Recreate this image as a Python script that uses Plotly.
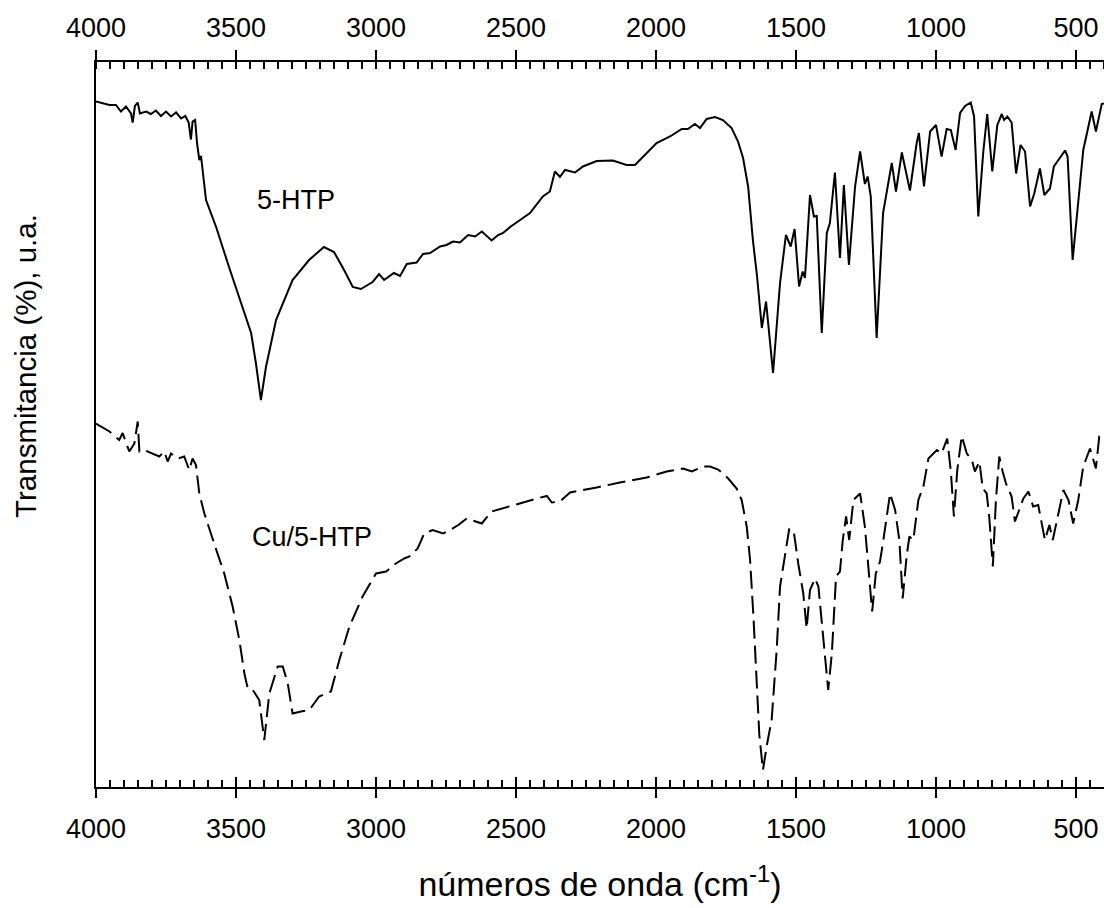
import plotly.graph_objects as go

# ---- data (wavenumber in cm-1, transmittance in arbitrary units) ----
htp_wn = [4000, 3952, 3929, 3911, 3893, 3875, 3869, 3861, 3851, 3843, 3821, 3804, 3786, 3768,
          3750, 3732, 3714, 3696, 3681, 3669, 3661, 3655, 3646, 3639, 3631, 3625,
          3607, 3571, 3525, 3476, 3446, 3429, 3411, 3393, 3357, 3298, 3239, 3186, 3150, 3114,
          3083, 3054, 3012, 2989, 2971, 2936, 2914, 2890, 2855, 2832, 2807, 2771, 2748, 2725,
          2700, 2671, 2646, 2622, 2587, 2564, 2546, 2521, 2450, 2404, 2379, 2361, 2343, 2325,
          2289, 2261, 2212, 2154, 2105, 2075, 2033, 1998, 1950, 1908, 1886, 1861, 1843, 1819,
          1789, 1761, 1730, 1707, 1689, 1671, 1654, 1639, 1622, 1607, 1582, 1557, 1536, 1519,
          1505, 1489, 1476, 1468, 1450, 1436, 1426, 1408, 1390, 1379, 1361, 1343, 1329, 1311,
          1289, 1271, 1254, 1244, 1233, 1212, 1189, 1158, 1143, 1122, 1093, 1069, 1061, 1043,
          1021, 1000, 980, 962, 947, 930, 914, 896, 876, 864, 849, 831, 817, 799, 781, 765,
          757, 745, 730, 714, 698, 682, 664, 649, 629, 613, 593, 579, 539, 530, 512, 492, 474,
          444, 429, 408, 400]
htp_t = [137.1, 136.4, 136.4, 135.1, 136.1, 134.7, 132.9, 136.2, 136.9, 134.7, 135.1, 134.6, 135.3, 134.2,
         135.1, 134.1, 134.9, 133.7, 134.2, 132.9, 129.5, 133.1, 133.4, 128.7, 125.4, 126.2,
         117.4, 112.0, 104.0, 96.0, 90.8, 84.8, 77.4, 84.0, 93.4, 101.4, 105.4, 108.0, 107.0, 103.4,
         100.0, 99.6, 101.0, 102.6, 101.4, 102.8, 102.2, 104.6, 104.9, 106.6, 106.8, 108.1, 108.4, 109.1,
         108.9, 110.4, 110.1, 111.1, 109.3, 110.4, 110.8, 112.0, 114.8, 118.1, 119.1, 123.1, 122.0, 123.4,
         122.9, 124.1, 125.2, 125.3, 124.4, 124.4, 126.8, 128.8, 130.1, 131.6, 131.6, 132.6, 131.8, 133.6,
         134.0, 133.4, 131.8, 129.1, 125.8, 120.1, 109.4, 102.1, 91.8, 97.1, 82.8, 100.8, 110.4, 108.1,
         111.6, 100.1, 103.1, 101.8, 118.4, 114.1, 114.2, 90.8, 110.8, 112.8, 122.9, 105.8, 120.4, 104.4,
         120.1, 127.1, 120.6, 122.1, 118.1, 89.8, 114.8, 124.8, 119.1, 126.9, 119.3, 128.8, 130.8, 120.1,
         131.1, 132.4, 126.1, 131.6, 131.4, 127.4, 134.8, 136.2, 136.9, 134.1, 114.1, 127.1, 134.6, 123.1, 132.4, 134.6,
         133.4, 134.1, 132.9, 122.7, 128.4, 127.1, 116.1, 118.7, 123.7, 118.4, 119.7, 124.1, 127.3, 126.1, 105.4, 117.4, 127.4,
         135.1, 131.1, 136.6, 136.7]

cu_wn = [4000, 3952, 3917, 3905, 3881, 3863, 3851, 3845, 3828, 3804, 3774, 3756, 3744, 3732,
         3708, 3685, 3667, 3655, 3643, 3631, 3613, 3578, 3542, 3512, 3488, 3470, 3458, 3440,
         3417, 3399, 3381, 3351, 3333, 3315, 3298, 3268, 3238, 3203, 3161, 3131, 3095, 3048,
         3000, 2964, 2929, 2899, 2881, 2851, 2828, 2798, 2760, 2736, 2706, 2676, 2622, 2587,
         2521, 2426, 2390, 2372, 2343, 2307, 2212, 2129, 2033, 1962, 1903, 1872, 1831, 1807,
         1778, 1742, 1712, 1694, 1676, 1664, 1652, 1640, 1631, 1618, 1604, 1587, 1569, 1557,
         1539, 1524, 1507, 1492, 1474, 1462, 1450, 1432, 1420, 1402, 1385, 1372, 1357, 1343,
         1333, 1321, 1310, 1295, 1271, 1254, 1242, 1228, 1215, 1200, 1188, 1164, 1146, 1131,
         1119, 1105, 1095, 1081, 1063, 1045, 1027, 997, 980, 960, 947, 936, 924, 908, 890, 872,
         861, 845, 833, 819, 810, 797, 786, 774, 762, 750, 730, 718, 703, 688, 670, 653, 635,
         622, 611, 595, 583, 569, 545, 527, 510, 492, 474, 450, 429, 417, 400]
cu_t = [72.7, 71.1, 69.4, 70.8, 67.1, 68.7, 73.1, 67.1, 67.4, 66.8, 66.1, 67.1, 65.1, 66.7,
        65.7, 66.1, 63.4, 65.7, 64.4, 58.7, 54.7, 48.7, 42.7, 36.1, 29.4, 22.7, 19.7, 19.4,
        17.4, 9.4, 18.7, 24.1, 24.1, 20.7, 14.7, 15.1, 15.4, 18.1, 19.1, 25.4, 32.1, 38.1,
        42.7, 43.1, 44.7, 45.7, 46.1, 47.7, 50.7, 51.4, 50.7, 51.4, 52.4, 53.7, 52.7, 55.1,
        56.2, 57.7, 58.2, 56.9, 57.1, 58.9, 59.9, 60.9, 61.9, 63.1, 63.7, 63.1, 64.1, 64.1,
        63.5, 61.7, 59.7, 57.4, 52.1, 45.4, 34.1, 20.7, 10.4, 3.4, 8.4, 13.4, 27.4, 40.1,
        46.7, 51.7, 50.7, 44.7, 38.7, 31.7, 39.4, 41.7, 40.1, 28.7, 19.4, 26.7, 42.1, 43.1,
        49.4, 54.1, 49.4, 57.4, 58.7, 52.1, 44.1, 35.1, 42.7, 45.1, 49.4, 58.7, 55.4, 49.4,
        37.7, 46.1, 50.1, 49.4, 57.4, 60.1, 65.7, 67.4, 66.7, 69.7, 63.1, 54.1, 63.4, 70.2, 66.7, 65.4,
        63.1, 65.1, 59.7, 58.7, 54.1, 44.1, 57.4, 66.1, 63.1, 60.7, 58.1, 53.1, 55.4, 57.7, 59.1, 56.1, 56.4,
        52.4, 49.4, 52.4, 49.4, 53.1, 59.4, 57.4, 52.7, 57.4, 64.1, 67.7, 63.7, 70.1, 70.7]

sample_labels = ["5-HTP", "Cu/5-HTP"]
label_wn = [3286, 3229]
label_t = [117.4, 50.0]

x_ticks = [4000, 3500, 3000, 2500, 2000, 1500, 1000, 500]
x_range = [4000, 400]
y_range = [0, 145]

FONT = "Liberation Sans, Arial, sans-serif"

fig = go.Figure()
fig.add_trace(go.Scatter(x=htp_wn, y=htp_t, mode="lines", name="5-HTP",
                         line=dict(color="black", width=2), showlegend=False))
fig.add_trace(go.Scatter(x=cu_wn, y=cu_t, mode="lines", name="Cu/5-HTP",
                         line=dict(color="black", width=2, dash="18px,7px"), showlegend=False))
# invisible helpers so the extra axes are drawn
fig.add_trace(go.Scatter(x=x_range, y=y_range, xaxis="x2", mode="lines", opacity=0,
                         hoverinfo="skip", showlegend=False))
fig.add_trace(go.Scatter(x=x_range, y=y_range, xaxis="x3", mode="lines", opacity=0,
                         hoverinfo="skip", showlegend=False))

for txt, xw, yt in zip(sample_labels, label_wn, label_t):
    fig.add_annotation(x=xw, y=yt, xref="x", yref="y", text=txt, showarrow=False,
                       font=dict(family=FONT, size=27, color="black"))

# y-axis title (sits above the vertical centre in the original)
fig.add_annotation(text="Transmitancia (%), u.a.", xref="paper", yref="paper",
                   x=-0.070, y=0.5814, xanchor="center", yanchor="middle",
                   textangle=-90, showarrow=False, font=dict(family=FONT, size=29.5, color="black"))

common_x = dict(range=x_range, tickmode="array", tickvals=x_ticks, automargin=False,
                showgrid=False, zeroline=False, linecolor="black", linewidth=2,
                tickcolor="black", tickwidth=2, ticklen=10,
                tickfont=dict(family=FONT, size=27, color="black"))
minor_in = dict(dtick=50, tick0=0, ticks="inside", ticklen=7, tickwidth=1.5, tickcolor="black")

fig.update_layout(
    width=1104, height=908,
    margin=dict(l=96, r=0, t=62, b=121),
    paper_bgcolor="white", plot_bgcolor="white",
    font=dict(family=FONT, color="black"),
    # bottom axis: labels + inner half of the crossing major ticks
    xaxis=dict(**common_x, side="bottom", ticks="inside", showline=True, ticklabelstandoff=17,
               minor=minor_in,
               title=dict(text="números de onda (cm<sup>-1</sup>)", font=dict(family=FONT, size=34),
                          standoff=29)),
    # top axis
    xaxis2=dict(**common_x, overlaying="x", side="top", anchor="y", ticks="outside", showline=True,
                ticklabelstandoff=2, minor=minor_in),
    # bottom axis: outer half of the crossing major ticks
    xaxis3=dict(range=x_range, tickmode="array", tickvals=x_ticks, overlaying="x", side="bottom",
                anchor="y", ticks="outside", ticklen=10, tickwidth=2, tickcolor="black", automargin=False,
                showticklabels=False, showline=False, showgrid=False, zeroline=False),
    yaxis=dict(range=y_range, showticklabels=False, ticks="", showgrid=False, zeroline=False,
               showline=True, linecolor="black", linewidth=2, automargin=False),
)

# remove the default page margin so the figure fills the window exactly
fig.write_html("out.html", config={"displayModeBar": False},
               post_script="document.body.style.margin='0';")
